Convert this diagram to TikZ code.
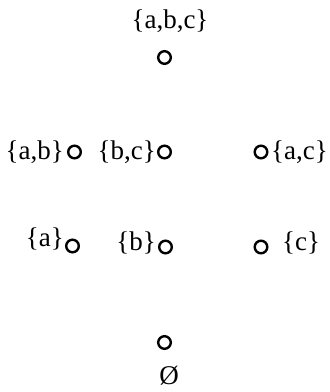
\documentclass[tikz,border=0pt]{standalone}
\usepackage{fontspec}
\setmainfont{Liberation Serif}
\tikzset{
  vtx/.style={circle,draw,line width=2.4pt,minimum size=12.6pt,inner sep=0pt},
  lbl/.style={font=\fontsize{27}{32}\selectfont,inner sep=0pt,anchor=base}
}
\begin{document}
\begin{tikzpicture}[x=1pt,y=1pt]
    \useasboundingbox (0,0) rectangle (330,392);

    % Top
    \node[lbl] (tabc) at (170,363) {\{a,b,c\}};
    \node[vtx] (vabc) at (164.5,334.5) {};

    % Two-element subsets
    \node[lbl,anchor=base east] (tab) at (64,232.5) {\{a,b\}};
    \node[vtx] (vab) at (74.5,240) {};
    \node[lbl,anchor=base east] (tbc) at (156,232.5) {\{b,c\}};
    \node[vtx] (vbc) at (164.5,240) {};
    \node[vtx] (vac) at (261,240) {};
    \node[lbl,anchor=base west] (tac) at (271,232.5) {\{a,c\}};

    % One-element subsets
    \node[lbl,anchor=base east] (ta) at (64,145) {\{a\}};
    \node[vtx] (va) at (72.5,146) {};
    \node[lbl,anchor=base east] (tb) at (156,141) {\{b\}};
    \node[vtx] (vb) at (165.5,145) {};
    \node[vtx] (vc) at (261,145) {};
    \node[lbl,anchor=base west] (tc) at (282,141) {\{c\}};

    % Bottom
    \node[vtx] (vnil) at (164.5,49.5) {};
    \node[lbl] (tnil) at (169,7.5) {Ø};
\end{tikzpicture}
\end{document}
